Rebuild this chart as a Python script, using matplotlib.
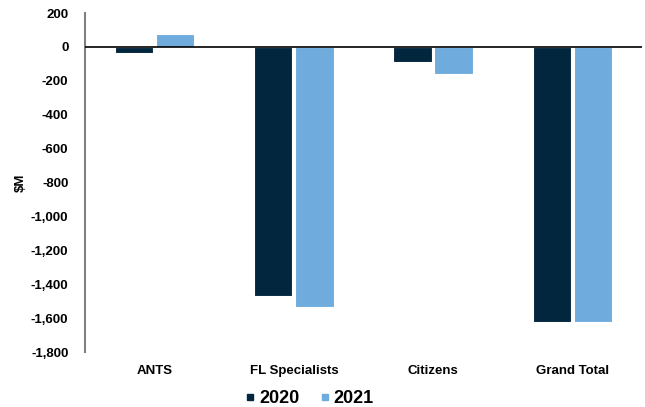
#!/usr/bin/env python3

import numpy as np
import matplotlib
matplotlib.use("Agg")
import matplotlib.pyplot as plt
from matplotlib.lines import Line2D
from matplotlib.ticker import FuncFormatter

categories = ["ANTS", "FL Specialists", "Citizens", "Grand Total"]
values_2020 = [-38, -1467, -90, -1625]
values_2021 = [75, -1535, -157, -1625]
series_names = ["2020", "2021"]
colors = ["#02263D", "#6FACDD"]

plt.rcParams["font.family"] = ["Liberation Sans", "DejaVu Sans"]
plt.rcParams["font.weight"] = "bold"

fig = plt.figure(figsize=(6.45, 4.07), dpi=100)
ax = fig.add_axes([0.132, 0.135, 0.863, 0.833])

x = np.arange(len(categories))
w = 0.275
ax.bar(x - w / 2 - 0.01, values_2020, w, color=colors[0], edgecolor="white", linewidth=0.8)
ax.bar(x + w / 2 + 0.01, values_2021, w, color=colors[1], edgecolor="white", linewidth=0.8)

ax.set_xlim(-0.5, len(categories) - 0.5)
ax.set_ylim(-1800, 200)
ax.set_yticks(np.arange(-1800, 201, 200))
ax.yaxis.set_major_formatter(FuncFormatter(lambda v, p: "{:,.0f}".format(v)))
ax.set_xticks(x)
ax.set_xticklabels(categories, fontsize=9.5, fontweight="bold")
ax.tick_params(axis="y", labelsize=9.5, length=0, pad=12)
ax.tick_params(axis="x", length=0, pad=9)
for lbl in ax.get_yticklabels():
    lbl.set_fontweight("bold")

ax.axhline(0, color="black", linewidth=1.2, zorder=3)
for s in ["top", "right", "bottom"]:
    ax.spines[s].set_visible(False)
ax.spines["left"].set_color("#808080")
ax.spines["left"].set_linewidth(1.5)

ax.set_ylabel("$M", fontsize=9.5, fontweight="bold", labelpad=3)

handles = [
    Line2D([], [], marker="s", linestyle="none", color=c, markersize=4.5)
    for c in colors
]
fig.legend(handles, series_names, loc="center", bbox_to_anchor=(0.478, 0.02),
           ncol=2, frameon=False, prop={"size": 13, "weight": "bold"},
           handletextpad=0.1, columnspacing=1.0, handlelength=0.8)

fig.savefig("out.png", dpi=100)
